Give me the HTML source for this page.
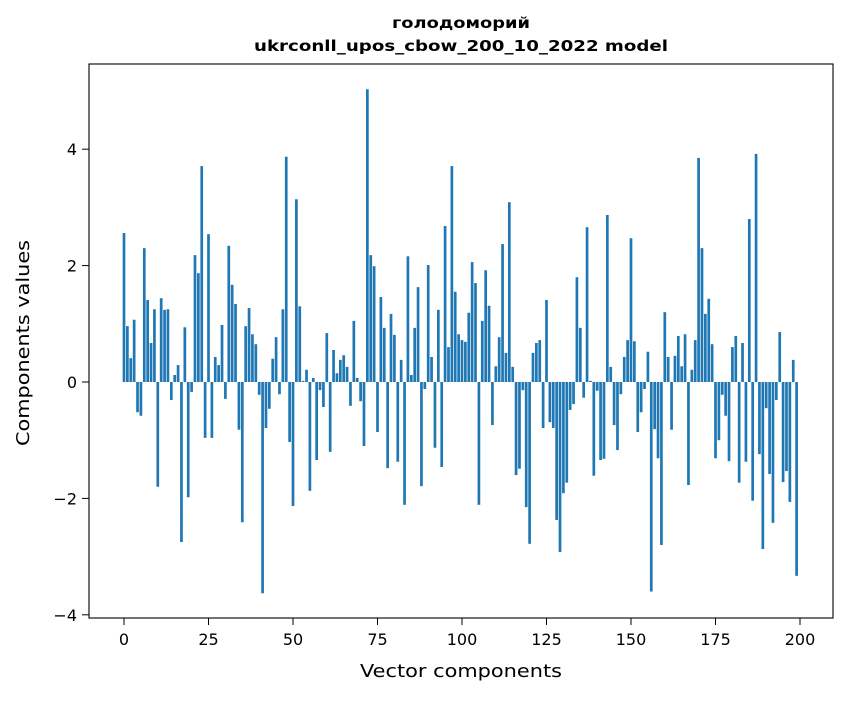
<!DOCTYPE html>
<html><head><meta charset="utf-8"><style>
body{margin:0;background:#fff;}
svg text{font-family:"DejaVu Sans","Liberation Sans",sans-serif;}
</style></head><body>
<svg id="chart" width="847" height="696" viewBox="0 0 847 696" xmlns="http://www.w3.org/2000/svg">
<rect width="847" height="696" fill="#fff"/>
<text x="461" y="28" text-anchor="middle" font-size="15" font-weight="bold" textLength="138" lengthAdjust="spacingAndGlyphs">голодоморий</text>
<text x="461" y="51" text-anchor="middle" font-size="15" font-weight="bold" textLength="414" lengthAdjust="spacingAndGlyphs">ukrconll_upos_cbow_200_10_2022 model</text>
<g id="bars"></g>
<g id="axes"></g>
<rect x="89" y="64" width="744" height="554" fill="none" stroke="#000" stroke-width="1.1"/>
<text x="461" y="677" text-anchor="middle" font-size="18" textLength="202" lengthAdjust="spacingAndGlyphs">Vector components</text>
<text transform="translate(29,343) rotate(-90)" text-anchor="middle" font-size="18" textLength="206" lengthAdjust="spacingAndGlyphs">Components values</text>
</svg>
<script>
const values = [2.56,0.96,0.41,1.07,-0.52,-0.58,2.30,1.41,0.67,1.25,
-1.80,1.44,1.24,1.25,-0.31,0.12,0.29,-2.75,0.94,-1.98,
-0.17,2.18,1.87,3.71,-0.96,2.54,-0.96,0.43,0.29,0.98,
-0.29,2.34,1.67,1.34,-0.82,-2.41,0.96,1.27,0.82,0.65,
-0.22,-3.63,-0.79,-0.46,0.40,0.77,-0.21,1.25,3.87,-1.03,
-2.13,3.14,1.30,0.02,0.21,-1.87,0.07,-1.34,-0.14,-0.43,
0.84,-1.20,0.55,0.15,0.38,0.46,0.26,-0.41,1.05,0.07,
-0.33,-1.10,5.03,2.18,1.99,-0.86,1.46,0.93,-1.48,1.17,
0.81,-1.37,0.38,-2.11,2.16,0.12,0.93,1.63,-1.79,-0.12,
2.01,0.43,-1.13,1.24,-1.46,2.68,0.60,3.71,1.55,0.82,
0.72,0.69,1.19,2.06,1.70,-2.11,1.05,1.92,1.31,-0.74,
0.27,0.77,2.37,0.50,3.09,0.26,-1.60,-1.49,-0.14,-2.15,
-2.78,0.50,0.67,0.72,-0.79,1.41,-0.69,-0.79,-2.37,-2.92,
-1.91,-1.73,-0.48,-0.38,1.80,0.93,-0.27,2.66,0.02,-1.61,
-0.15,-1.34,-1.32,2.87,0.26,-0.74,-1.17,-0.21,0.43,0.72,
2.47,0.70,-0.86,-0.52,-0.12,0.52,-3.60,-0.81,-1.31,-2.80,
1.20,0.43,-0.82,0.45,0.79,0.27,0.82,-1.77,0.21,0.72,
3.85,2.30,1.17,1.43,0.65,-1.31,-1.00,-0.22,-0.58,-1.36,
0.60,0.79,-1.73,0.67,-1.37,2.80,-2.04,3.92,-1.24,-2.87,
-0.45,-1.58,-2.42,-0.31,0.86,-1.72,-1.53,-2.06,0.38,-3.33];
const xTicks = [0,25,50,75,100,125,150,175,200];
const yTicks = [-4,-2,0,2,4];
const NS = "http://www.w3.org/2000/svg";
function xs(v){return 124 + v*3.38;}
function ys(v){return 382 - v*58.2;}
const bars = document.getElementById('bars');
values.forEach((v,i)=>{
  const r = document.createElementNS(NS,'rect');
  
  
  const w = 0.8*3.38;
  r.setAttribute('x', xs(i)-w/2);
  r.setAttribute('width', w);
  r.setAttribute('y', Math.min(ys(v), ys(0)));
  r.setAttribute('height', Math.abs(ys(v)-ys(0)));
  r.setAttribute('fill','#1f77b4');
  bars.appendChild(r);
});
const axes = document.getElementById('axes');
xTicks.forEach(t=>{
  const l = document.createElementNS(NS,'line');
  
  
  l.setAttribute('x1',xs(t));l.setAttribute('x2',xs(t));
  l.setAttribute('y1',618);l.setAttribute('y2',625);
  l.setAttribute('stroke','#000');
  axes.appendChild(l);
  const tx = document.createElementNS(NS,'text');
  
  
  tx.setAttribute('x',xs(t));tx.setAttribute('y',645);
  tx.setAttribute('text-anchor','middle');tx.setAttribute('font-size','16');
  tx.textContent = t;
  axes.appendChild(tx);
});
yTicks.forEach(t=>{
  const l = document.createElementNS(NS,'line');
  
  
  l.setAttribute('x1',82);l.setAttribute('x2',89);
  l.setAttribute('y1',ys(t));l.setAttribute('y2',ys(t));
  l.setAttribute('stroke','#000');
  axes.appendChild(l);
  const tx = document.createElementNS(NS,'text');
  
  
  tx.setAttribute('x',77);tx.setAttribute('y',ys(t)+6);
  tx.setAttribute('text-anchor','end');tx.setAttribute('font-size','16');
  tx.textContent = t<0 ? '\u2212'+Math.abs(t) : t;
  axes.appendChild(tx);
});
</script>
</body></html>
